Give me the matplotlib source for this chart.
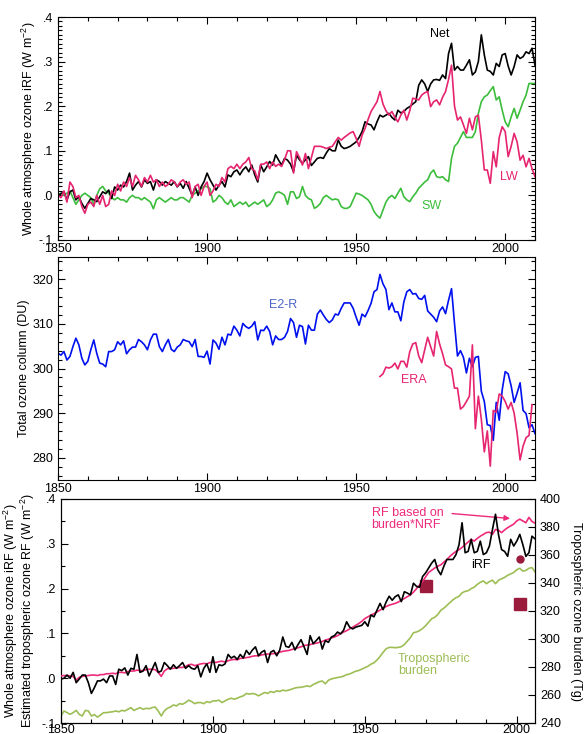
import numpy as np
import matplotlib
matplotlib.use('Agg')
import matplotlib.pyplot as plt
from matplotlib.ticker import MultipleLocator, FuncFormatter

plt.rcParams['font.family'] = ['Liberation Sans', 'DejaVu Sans']
plt.rcParams['mathtext.fontset'] = 'custom'
plt.rcParams['mathtext.rm'] = 'Liberation Sans'
plt.rcParams['font.size'] = 9

# ---- data ----
years_top = np.arange(1850, 2011)
net_irf = [0.0, 0.004, 0.008, -0.01, 0.008, 0.012, -0.01, -0.003, -0.018, -0.029,
           -0.018, -0.007, -0.01, -0.014, -0.003, 0.008, 0.004, 0.012, -0.007, 0.019,
           0.012, 0.023, 0.019, 0.031, 0.05, 0.012, 0.023, 0.031, 0.019, 0.035,
           0.027, 0.031, 0.012, 0.035, 0.031, 0.023, 0.031, 0.027, 0.023, 0.031,
           0.019, 0.027, 0.016, 0.031, 0.016, 0.0, 0.019, 0.0, 0.019, 0.031,
           0.05, 0.035, 0.023, 0.012, 0.023, 0.031, 0.019, 0.046, 0.042, 0.053,
           0.057, 0.046, 0.057, 0.064, 0.053, 0.068, 0.046, 0.03, 0.068, 0.053,
           0.064, 0.076, 0.068, 0.091, 0.079, 0.068, 0.083, 0.079, 0.07, 0.053,
           0.09, 0.08, 0.072, 0.08, 0.087, 0.067, 0.075, 0.083, 0.085, 0.083,
           0.095, 0.105, 0.1, 0.1, 0.124, 0.11, 0.105, 0.107, 0.11, 0.115,
           0.12, 0.13, 0.143, 0.165, 0.16, 0.158, 0.147, 0.165, 0.18, 0.176,
           0.18, 0.184, 0.175, 0.169, 0.191, 0.185, 0.188, 0.195, 0.199, 0.205,
           0.21, 0.247, 0.259, 0.25, 0.233, 0.25, 0.259, 0.26, 0.258, 0.27,
           0.262, 0.318, 0.341, 0.281, 0.289, 0.281, 0.281, 0.292, 0.304, 0.27,
           0.277, 0.3, 0.36, 0.315, 0.281, 0.278, 0.27, 0.296, 0.289, 0.315,
           0.318, 0.29, 0.27, 0.289, 0.315, 0.307, 0.311, 0.322, 0.318, 0.33,
           0.292]
lw_irf = [0.0, -0.005, 0.01, -0.015, 0.03, 0.02, -0.005, 0.0, -0.025, -0.04,
          -0.02, -0.015, -0.025, 0.0, -0.02, 0.0, -0.025, -0.02, 0.01, 0.0,
          0.025, 0.01, 0.03, 0.02, 0.04, 0.02, 0.045, 0.035, 0.02, 0.04,
          0.03, 0.045, 0.03, 0.035, 0.02, 0.03, 0.02, 0.025, 0.035, 0.03,
          0.02, 0.03, 0.035, 0.025, 0.03, -0.005, 0.02, 0.025, 0.0, 0.02,
          0.03, 0.0, 0.01, 0.025, 0.02, 0.04, 0.03, 0.06, 0.065, 0.06,
          0.07, 0.06, 0.07, 0.075, 0.085, 0.06, 0.055, 0.035, 0.07, 0.07,
          0.075, 0.06, 0.075, 0.065, 0.07, 0.065, 0.08, 0.1, 0.1, 0.05,
          0.098, 0.085, 0.068, 0.094, 0.06, 0.085, 0.11, 0.11, 0.11, 0.108,
          0.105, 0.108, 0.11, 0.12, 0.13, 0.124, 0.13, 0.135, 0.14, 0.143,
          0.128, 0.11, 0.135, 0.15, 0.17, 0.188, 0.199, 0.21, 0.233, 0.205,
          0.19, 0.18, 0.188, 0.175, 0.165, 0.18, 0.191, 0.169, 0.19, 0.218,
          0.216, 0.214, 0.225, 0.23, 0.233, 0.199, 0.21, 0.214, 0.203, 0.22,
          0.233, 0.26, 0.292, 0.2, 0.169, 0.176, 0.158, 0.139, 0.173, 0.147,
          0.176, 0.18, 0.124, 0.057, 0.057, 0.027, 0.098, 0.064, 0.13, 0.154,
          0.143, 0.087, 0.11, 0.139, 0.12, 0.079, 0.09, 0.064, 0.083, 0.06,
          0.042]
sw_irf = [0.0, 0.005, 0.0, 0.005, 0.01, -0.005, -0.02, -0.01, 0.0, 0.005,
          0.0, -0.005, -0.02, 0.0, 0.015, 0.02, 0.01, 0.005, -0.005, -0.01,
          -0.005, -0.01, -0.01, -0.015, -0.005, 0.0, -0.005, -0.005, -0.01, -0.005,
          -0.01, -0.015, -0.03, -0.01, -0.005, -0.01, -0.015, -0.01, -0.005, -0.01,
          -0.01, -0.005, -0.005, -0.01, -0.015, 0.0, 0.005, 0.01, 0.015, 0.02,
          0.02, 0.015, -0.015, -0.01, 0.0, -0.005, -0.015, -0.02, -0.01, -0.025,
          -0.02, -0.015, -0.02, -0.015, -0.025, -0.02, -0.015, -0.02, -0.015, -0.01,
          -0.025, -0.02, -0.01, 0.005, 0.008, 0.005, 0.0, -0.02, 0.008, 0.008,
          -0.007, -0.003, 0.02, 0.0, -0.007, -0.01, -0.029, -0.025, -0.018, -0.005,
          0.0, -0.005, -0.01, -0.008, -0.01, -0.025, -0.029, -0.029, -0.025, -0.01,
          0.005, 0.003, 0.0, -0.005, -0.01, -0.02, -0.036, -0.045, -0.051, -0.033,
          -0.015, -0.005, 0.0, -0.007, 0.005, 0.016, -0.003, -0.01, -0.014, -0.003,
          0.005, 0.016, 0.023, 0.03, 0.035, 0.05, 0.057, 0.042, 0.04, 0.042,
          0.035, 0.031, 0.083, 0.11, 0.117, 0.13, 0.143, 0.13, 0.13, 0.13,
          0.143, 0.184, 0.21, 0.221, 0.225, 0.235, 0.244, 0.214, 0.221, 0.191,
          0.165, 0.154, 0.176, 0.195, 0.173, 0.191, 0.21, 0.225, 0.251, 0.251,
          0.251]

e2r_column = [303.4, 303.0, 303.8, 301.9, 302.7, 304.9, 306.8, 305.3, 302.3, 300.8,
              301.6, 304.2, 306.4, 303.4, 301.2, 301.0, 300.4, 303.8, 303.8, 304.2,
              306.0, 305.3, 306.2, 303.3, 304.2, 304.8, 304.8, 306.5, 306.0, 305.3,
              304.2, 306.4, 307.7, 307.7, 304.9, 303.8, 305.3, 306.5, 304.3, 303.8,
              304.8, 305.3, 306.5, 306.2, 306.0, 304.9, 306.5, 302.7, 302.7, 302.5,
              303.9, 301.0, 306.4, 305.7, 304.3, 307.0, 305.3, 307.7, 307.5, 309.5,
              308.6, 307.3, 310.1, 309.4, 309.0, 309.5, 310.5, 306.4, 308.6, 308.5,
              309.5, 308.3, 305.3, 307.3, 306.5, 306.5, 307.0, 308.3, 311.2, 310.3,
              307.0, 309.7, 309.4, 305.5, 309.7, 308.6, 308.6, 312.2, 313.1, 312.0,
              311.0, 310.3, 310.9, 312.2, 312.0, 313.5, 314.7, 314.7, 314.7, 313.5,
              311.5, 309.7, 312.2, 311.6, 313.0, 314.6, 317.2, 317.7, 321.1, 319.0,
              317.7, 313.2, 314.7, 312.7, 312.7, 310.7, 314.9, 317.2, 317.7, 316.7,
              316.8, 315.7, 315.5, 316.4, 312.9, 312.2, 311.5, 310.5, 312.9, 313.8,
              312.3, 315.3, 317.9, 310.1, 302.8, 304.0, 302.5, 299.0, 302.3, 300.4,
              302.5, 302.7, 294.9, 292.6, 287.4, 287.2, 283.9, 292.4, 288.4, 295.2,
              299.3, 298.8, 296.1, 292.4, 294.5, 296.8, 290.6, 289.9, 286.7, 287.4,
              285.4]
years_era = np.arange(1958, 2010)
era_column = [298.2, 298.8, 300.3, 300.1, 300.4, 301.2, 299.9, 301.6, 301.6, 300.3,
              303.8, 305.5, 305.8, 302.8, 301.3, 304.2, 307.0, 304.9, 302.8, 308.3,
              305.5, 303.3, 300.8, 300.4, 299.9, 295.6, 295.6, 290.9, 291.5, 292.6,
              293.8, 305.3, 286.5, 293.8, 288.6, 281.3, 286.0, 278.1, 290.6, 290.2,
              294.3, 293.8, 292.6, 290.9, 292.4, 290.0, 285.5, 279.5, 282.6, 284.5,
              285.0, 291.9]

years_bot = np.arange(1850, 2007)
irf_bot = [-0.002, 0.0, 0.007, 0.0, 0.013, -0.01, -0.002, 0.007, 0.007, -0.01,
           -0.034, -0.021, -0.006, -0.006, -0.002, -0.01, 0.005, 0.005, -0.014, 0.02,
           0.017, 0.023, 0.007, 0.022, 0.02, 0.053, 0.013, 0.016, 0.028, 0.005,
           0.02, 0.035, 0.013, 0.016, 0.035, 0.028, 0.02, 0.03, 0.022, 0.028,
           0.035, 0.022, 0.028, 0.022, 0.02, 0.028, 0.003, 0.022, 0.032, 0.013,
           0.048, 0.013, 0.03, 0.028, 0.032, 0.053, 0.045, 0.049, 0.042, 0.053,
           0.045, 0.062, 0.053, 0.063, 0.07, 0.05, 0.058, 0.062, 0.035, 0.058,
           0.062, 0.05, 0.063, 0.092, 0.071, 0.069, 0.08, 0.063, 0.075, 0.086,
           0.07, 0.053, 0.095, 0.077, 0.084, 0.092, 0.065, 0.084, 0.08, 0.092,
           0.095, 0.103, 0.099, 0.107, 0.126, 0.114, 0.11, 0.114, 0.116, 0.118,
           0.126, 0.116, 0.141, 0.137, 0.152, 0.167, 0.153, 0.17, 0.183, 0.174,
           0.182, 0.186, 0.171, 0.193, 0.19, 0.186, 0.212, 0.205, 0.203, 0.227,
           0.235, 0.246, 0.257, 0.265, 0.242, 0.231, 0.25, 0.265, 0.265, 0.265,
           0.276, 0.298, 0.347, 0.28, 0.283, 0.31, 0.28, 0.283, 0.306, 0.276,
           0.28, 0.295, 0.332, 0.366, 0.32, 0.287, 0.283, 0.272, 0.31, 0.295,
           0.306, 0.321, 0.298, 0.272, 0.28, 0.317, 0.311]
rf_nrf = [0.005, 0.006, 0.006, 0.005, 0.004, -0.004, 0.002, 0.004, 0.005, 0.006,
          0.007, 0.007, 0.006, 0.008, 0.008, 0.01, 0.01, 0.011, 0.01, 0.013,
          0.013, 0.012, 0.015, 0.016, 0.016, 0.018, 0.017, 0.017, 0.019, 0.02,
          0.02, 0.019, 0.013, 0.004, 0.016, 0.021, 0.022, 0.022, 0.023, 0.024,
          0.024, 0.026, 0.03, 0.031, 0.028, 0.03, 0.032, 0.033, 0.032, 0.035,
          0.036, 0.035, 0.037, 0.038, 0.036, 0.039, 0.041, 0.042, 0.041, 0.044,
          0.045, 0.046, 0.047, 0.049, 0.05, 0.05, 0.052, 0.053, 0.054, 0.054,
          0.055, 0.056, 0.058, 0.06, 0.061, 0.062, 0.064, 0.066, 0.068, 0.07,
          0.073, 0.074, 0.075, 0.077, 0.078, 0.08, 0.082, 0.085, 0.087, 0.09,
          0.092, 0.095, 0.099, 0.103, 0.106, 0.11, 0.114, 0.118, 0.122, 0.127,
          0.133, 0.137, 0.141, 0.144, 0.148, 0.152, 0.156, 0.16, 0.163, 0.165,
          0.167, 0.17, 0.174, 0.178, 0.182, 0.186, 0.192, 0.2, 0.208, 0.216,
          0.226, 0.236, 0.241, 0.246, 0.25, 0.253, 0.259, 0.265, 0.272, 0.278,
          0.283, 0.287, 0.292, 0.298, 0.304, 0.31, 0.306, 0.312, 0.317, 0.321,
          0.325, 0.326, 0.321, 0.332, 0.33, 0.325, 0.331, 0.336, 0.34, 0.344,
          0.351, 0.355, 0.351, 0.347, 0.359, 0.35, 0.346]
trop_burden = [245, 248.6, 247.4, 246.2, 247.4, 249, 246.2, 245, 249, 248.6,
               245, 246, 244.2, 245.7, 247.4, 247.4, 247.8, 248, 248.6, 248,
               249, 248.6, 249.8, 251, 249, 250, 251, 249.8, 250.5, 250.2,
               251, 251.4, 248.6, 245, 248.6, 250.5, 251.4, 252.9, 252.2, 253.8,
               253.4, 254.6, 256.3, 255.3, 253.8, 254.6, 254.6, 253.8, 255.3, 254.6,
               255.8, 255.8, 256.3, 254.6, 255.8, 257, 257.7, 257, 257.7, 258.7,
               259.4, 261.1, 260.6, 261.1, 260.6, 259.4, 260.6, 261.8, 261.1, 262.5,
               261.8, 263, 262.5, 263.5, 263, 263.5, 264.2, 265, 265.4, 265.5,
               266, 266.5, 266, 267.5, 268.5, 269.5, 270, 268, 270.5, 271.5,
               272, 272.5, 272.8, 273.5, 274.5, 275, 276, 277, 277.5, 278.5,
               279.5, 280.5, 282, 283, 285, 287.5, 290.5, 293, 294, 294,
               293.8, 294, 294.5, 296, 298.5, 301, 304.5, 305, 306, 307.5,
               309.5, 312, 314.5, 315.5, 317.5, 320.5, 322, 324, 326, 328,
               329.5, 330.5, 333, 334, 334.5, 336, 337, 339, 340.5, 341.5,
               339.5, 341, 342, 339.5, 342, 343, 344, 345.5, 346.5, 347.5,
               349.5, 350.5, 348.5, 349, 350.5, 351, 348]

obs_sq_years = [1970, 2001.2]
obs_sq_burden = [338, 325]
obs_dot_years = [2001]
obs_dot_burden = [357]

# ---- colours ----
black = 'black'
pink = '#e6246f'
green = '#3cbd3c'
blue = '#0010ee'
olive = '#9dbe55'
maroon = '#9b1b3d'


def dotfmt(v, pos):
    return f'{v:.1f}'.replace('0.', '.')


def idl_ticks(ax):
    ax.tick_params(which='both', direction='in', top=True, right=True,
                   labelsize=9)
    ax.tick_params(which='major', length=5, width=0.8)
    ax.tick_params(which='minor', length=3, width=0.8)
    ax.tick_params(axis='x', pad=2)


fig = plt.figure(figsize=(5.84, 7.34), dpi=100)

# ---- panel (a): iRF components ----
ax1 = fig.add_axes([58 / 584, 1 - 240 / 734, 477 / 584, 223 / 734])
ax1.plot(years_top, sw_irf, color=green, lw=1.2)
ax1.plot(years_top, net_irf, color=black, lw=1.2)
ax1.plot(years_top, lw_irf, color=pink, lw=1.2)
ax1.set_xlim(1850, 2010)
ax1.set_ylim(-0.1, 0.4)
ax1.xaxis.set_major_locator(MultipleLocator(50))
ax1.xaxis.set_minor_locator(MultipleLocator(10))
ax1.yaxis.set_major_locator(MultipleLocator(0.1))
ax1.yaxis.set_minor_locator(MultipleLocator(0.01))
ax1.yaxis.set_major_formatter(FuncFormatter(dotfmt))
idl_ticks(ax1)
ax1.set_ylabel(r'Whole atmosphere ozone iRF (W m$^{-2}$)', fontsize=9)
ax1.yaxis.set_label_coords(-0.041, 0.5)
ax1.text(1978.1, 0.362, 'Net', color=black, ha='center', va='center', fontsize=9)
ax1.text(2001.3, 0.042, 'LW', color=pink, ha='center', va='center', fontsize=9)
ax1.text(1975.2, -0.023, 'SW', color=green, ha='center', va='center', fontsize=9)

# ---- panel (b): total column ----
ax2 = fig.add_axes([58 / 584, 1 - 480 / 734, 477 / 584, 223 / 734])
ax2.plot(years_top, e2r_column, color=blue, lw=1.2)
ax2.plot(years_era, era_column, color=pink, lw=1.2)
ax2.set_xlim(1850, 2010)
ax2.set_ylim(275, 325)
ax2.xaxis.set_major_locator(MultipleLocator(50))
ax2.xaxis.set_minor_locator(MultipleLocator(10))
ax2.yaxis.set_major_locator(MultipleLocator(10))
ax2.yaxis.set_minor_locator(MultipleLocator(2))
idl_ticks(ax2)
ax2.set_ylabel('Total ozone column (DU)', fontsize=9)
ax2.yaxis.set_label_coords(-0.058, 0.5)
ax2.text(1925.6, 314.2, 'E2-R', color='#4a66c8', ha='center', va='center', fontsize=9)
ax2.text(1969.4, 297.5, 'ERA', color=pink, ha='center', va='center', fontsize=9)

# ---- panel (c): tropospheric ----
ax3 = fig.add_axes([61 / 584, 1 - 723 / 734, 474 / 584, 224 / 734])
ax3r = ax3.twinx()
ax3r.plot(years_bot, trop_burden, color=olive, lw=1.2)
ax3r.plot(obs_sq_years, obs_sq_burden, 's', color=maroon, ms=8, ls='none')
ax3r.plot(obs_dot_years, obs_dot_burden, 'o', color=maroon, ms=5, ls='none')
ax3.plot(years_bot, rf_nrf, color='#ee2a7b', lw=1.2, zorder=3)
ax3.plot(years_bot, irf_bot, color=black, lw=1.2, zorder=4)
ax3.set_zorder(ax3r.get_zorder() + 1)
ax3.patch.set_visible(False)
ax3.set_xlim(1850, 2006)
ax3.set_ylim(-0.1, 0.4)
ax3r.set_ylim(240, 400)
ax3.xaxis.set_major_locator(MultipleLocator(50))
ax3.xaxis.set_minor_locator(MultipleLocator(10))
ax3.yaxis.set_major_locator(MultipleLocator(0.1))
ax3.yaxis.set_minor_locator(MultipleLocator(0.05))
ax3.yaxis.set_major_formatter(FuncFormatter(dotfmt))
ax3r.yaxis.set_major_locator(MultipleLocator(20))
ax3.tick_params(which='both', direction='in', top=False, right=False, labelsize=9)
ax3.tick_params(which='major', length=5, width=0.8)
ax3.tick_params(which='minor', length=3, width=0.8)
ax3.tick_params(axis='x', pad=1)
ax3r.tick_params(direction='in', length=5, width=0.8, labelsize=9)
ax3.set_ylabel('Whole atmosphere ozone iRF (W m$^{-2}$)\n'
               'Estimated tropospheric ozone RF (W m$^{-2}$)',
               fontsize=9, linespacing=0.95)
ax3.yaxis.set_label_coords(-0.05, 0.5)
ax3r.set_ylabel('Tropospheric ozone burden (Tg)', rotation=270, fontsize=9)
ax3r.yaxis.set_label_coords(1.10, 0.5)

ax3.text(1952.2, 0.355, 'RF based on\nburden*NRF', color='#ee2a7b',
         ha='left', va='center', fontsize=9, linespacing=1.0)
ax3.annotate('', xy=(1998.7, 0.356), xytext=(1977.8, 0.368),
             arrowprops=dict(arrowstyle='-|>', color='#ee2a7b', lw=1.0,
                             mutation_scale=8))
ax3.text(1988.3, 0.253, 'iRF', color=black, ha='center', va='center', fontsize=9)
ax3.text(1960.8, 0.03, 'Tropospheric\nburden', color=olive,
         ha='left', va='center', fontsize=9, linespacing=1.0)

fig.savefig('out.png', dpi=100)
